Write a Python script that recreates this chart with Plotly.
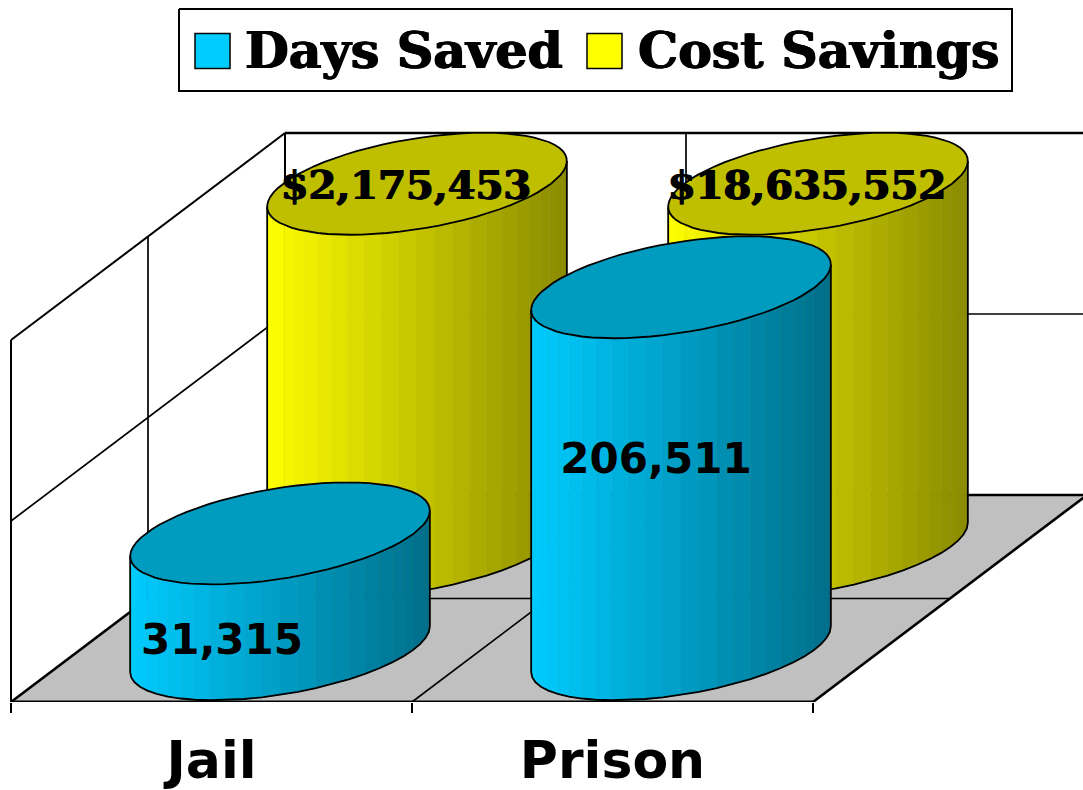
import math
import plotly.graph_objects as go

categories = ["Jail", "Prison"]
series_names = ["Days Saved", "Cost Savings"]
# plotted heights (percent of the value axis)
days_saved = [32, 100]
cost_savings = [100, 100]
days_labels = ["31,315", "206,511"]
cost_labels = ["$2,175,453", "$18,635,552"]

W, H = 1083, 790
X0, Y0 = 11.0, 702.0       # front-left floor corner
CELL = 401.0               # width of a category
DX, DY = 137.0, 103.5      # depth vector of one series
VAL = 3.62                 # px per percent
FLOOR = "#C0C0C0"
SERIES = [
    dict(side=(0, 204, 255), top="#009CC0"),
    dict(side=(255, 255, 0), top="#BFBF00"),
]
BAR_U, BAR_VX, BAR_VY = 134.0, 67.0, 51.0


def P(cat, depth, val=0.0):
    """category units, depth units (series), axis percent -> plot coordinates"""
    return X0 + cat * CELL + depth * DX, Y0 - depth * DY - val * VAL


fig = go.Figure()


def line(pts, width=1.5, name="grid"):
    fig.add_trace(go.Scatter(x=[p[0] for p in pts], y=[p[1] for p in pts], mode="lines",
                             line=dict(color="black", width=width), showlegend=False,
                             hoverinfo="skip", cliponaxis=True, name=name))


def poly(xs, ys, color, lw=0, lc="black", name="mark"):
    fig.add_trace(go.Scatter(x=xs, y=ys, mode="lines", fill="toself", fillcolor=color,
                             line=dict(color=lc, width=lw), showlegend=False,
                             hoverinfo="skip", cliponaxis=False, name=name))


# floor (clipped at the right edge of the picture, like the reference)
poly([P(0, 0)[0], P(2, 0)[0], W, W, P(0, 2)[0], P(0, 0)[0]],
     [P(0, 0)[1], P(2, 0)[1], Y0 - (W - P(2, 0)[0]) * DY / DX, P(2, 2)[1], P(0, 2)[1], P(0, 0)[1]],
     FLOOR, name="floor")

# walls and gridlines
right_edge = W + 2
line([P(0, 0, 0), P(0, 0, 100)], 2)
line([P(0, 0, 100), P(0, 2, 100)], 2)
line([P(0, 2, 100), (right_edge, P(0, 2, 100)[1])], 2.6)
line([P(0, 2, 0), P(0, 2, 100)], 2)
line([P(0, 0, 50), P(0, 2, 50), (right_edge, P(0, 2, 50)[1])], 1.7)
line([P(0, 1, 0), P(0, 1, 100)], 1.7)
line([P(1, 2, 0), P(1, 2, 100)], 1.7)
# floor lines
line([P(0, 0), P(0, 2)], 2.6)
line([P(0, 2), P(2, 2), (right_edge, P(2, 2)[1])], 2.6)
line([P(0, 1), P(2, 1)], 1.7)
line([P(1, 0), P(1, 2)], 1.7)
line([P(2, 0), P(2, 2)], 2.6)
fig.add_trace(go.Scatter(x=[P(0, 0)[0], P(2, 0)[0]], y=[Y0, Y0], mode="lines",
                         line=dict(color="black", width=3), showlegend=False,
                         hoverinfo="skip", cliponaxis=False, name="axis"))


def cylinder(cat, series, value):
    st = SERIES[series]
    cx, cy = P(cat + 0.5, series + 0.5)
    cy += -1.0
    top = cy - value * VAL
    t0 = math.atan2(BAR_VX, BAR_U)
    n = 26

    def px(t):
        return cx + BAR_U * math.cos(t) + BAR_VX * math.sin(t)

    def py(t, base):
        return base - BAR_VY * math.sin(t)

    ts = [t0 + math.pi + math.pi * i / n for i in range(n + 1)]
    for i in range(n):
        f = 1.0 - 0.46 * ((px(ts[i]) + px(ts[i + 1])) / 2 - (cx - 150)) / 300
        col = "rgb(%d,%d,%d)" % tuple(round(c * f) for c in st["side"])
        a, b = ts[i], ts[i + 1]
        poly([px(a), px(b), px(b), px(a), px(a)],
             [py(a, cy), py(b, cy), py(b, top), py(a, top), py(a, cy)], col, lw=0.6, lc=col,
             name=series_names[series])
    xs = [px(t) for t in ts]
    ys = [py(t, cy) for t in ts]
    line([(xs[0], py(ts[0], top))] + list(zip(xs, ys)) + [(xs[-1], py(ts[-1], top))], 1.8, name="outline")
    tt = [2 * math.pi * i / 72 for i in range(73)]
    poly([px(t) for t in tt], [py(t, top) for t in tt], st["top"], lw=1.8, name=series_names[series])


for c in range(2):
    cylinder(c, 1, cost_savings[c])
for c in range(2):
    cylinder(c, 0, days_saved[c])

# value labels
SERIF = "DejaVu Serif"
SANS = "DejaVu Sans"
HEAVY = "0.8px 0 0 black, -0.8px 0 0 black"
lx, ly = [], []
for c in range(2):
    x, y = P(c + 0.5, 1.5, cost_savings[c])
    lx.append(x - 11)
    ly.append(y + 4)
fig.add_trace(go.Scatter(x=lx, y=ly, mode="text", text=cost_labels, textposition="middle center",
                         textfont=dict(family=SERIF, size=40, color="black", weight="bold", shadow=HEAVY),
                         showlegend=False, hoverinfo="skip", cliponaxis=False))
dl = [(-58, -7), (-25, -188)]
fig.add_trace(go.Scatter(x=[P(c + 0.5, 0.5)[0] + dl[c][0] for c in range(2)],
                         y=[P(c + 0.5, 0.5)[1] + dl[c][1] for c in range(2)],
                         mode="text", text=days_labels, textposition="middle center",
                         textfont=dict(family=SANS, size=42, color="black", weight="bold"),
                         showlegend=False, hoverinfo="skip", cliponaxis=False))

# legend box, drawn as marks so its keys can keep their large size
LEG = dict(x0=179, x1=1012, y0=9, y1=91)
poly([LEG["x0"], LEG["x1"], LEG["x1"], LEG["x0"], LEG["x0"]],
     [LEG["y0"], LEG["y0"], LEG["y1"], LEG["y1"], LEG["y0"]], "white", lw=2, name="legend")
key_x = [212.5, 604.5]
text_x = [245, 638]
key_col = ["#00CCFF", "#FFFF00"]
for i in range(2):
    fig.add_trace(go.Scatter(x=[key_x[i]], y=[51], mode="markers",
                             marker=dict(symbol="square", size=35, color=key_col[i],
                                         line=dict(color="black", width=1.5)),
                             showlegend=False, hoverinfo="skip", cliponaxis=False, name=series_names[i]))
    fig.add_trace(go.Scatter(x=[text_x[i]], y=[55], mode="text", text=[series_names[i]],
                             textposition="middle right",
                             textfont=dict(family=SERIF, size=50.5, color="black", weight="bold", shadow=HEAVY),
                             showlegend=False, hoverinfo="skip", cliponaxis=False))

fig.update_layout(
    width=W, height=H, autosize=False,
    margin=dict(l=0, r=0, t=0, b=H - int(Y0), autoexpand=False),
    paper_bgcolor="white", plot_bgcolor="white",
    xaxis=dict(range=[0, W], showgrid=False, zeroline=False, showline=False, automargin=False,
               tickmode="array", tickvals=[P(c + 0.5, 0)[0] for c in range(2)], ticktext=categories,
               ticks="", ticklabelstandoff=23,
               tickfont=dict(family=SANS, size=52, color="black", weight="bold"),
               minor=dict(tickmode="array", tickvals=[P(c, 0)[0] for c in range(3)],
                          ticks="outside", ticklen=10, tickwidth=1.7, tickcolor="black", showgrid=False)),
    yaxis=dict(range=[Y0, 0], visible=False),
    showlegend=False,
)
fig.write_html("out.html", config=dict(displayModeBar=False),
               post_script="document.body.style.margin='0';document.documentElement.style.overflow='hidden';")
